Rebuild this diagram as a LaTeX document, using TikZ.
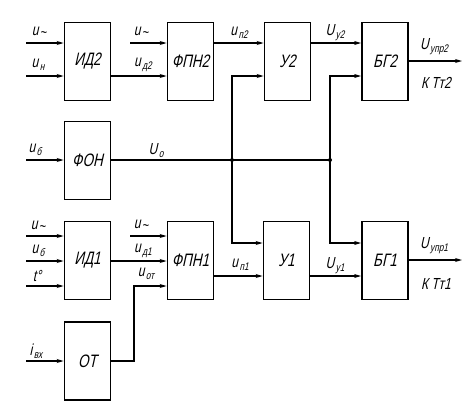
\documentclass[tikz,border=0pt]{standalone}
\usepackage{fontspec}
\setmainfont{Liberation Sans}
\newfontfamily\lblfont[FakeStretch=0.75,FakeSlant=0.22]{Liberation Sans}
\newcommand{\sbx}[1]{\kern1.5pt\raisebox{-0.35ex}{\fontsize{11}{11}\selectfont #1}}
\newcommand{\tldx}{\kern1pt\raisebox{-0.2ex}{\fontsize{15}{15}\selectfont\textasciitilde}}
\usetikzlibrary{arrows.meta}
\tikzset{
  blk/.style={draw, line width=1.8pt, minimum width=46pt, minimum height=78pt, inner sep=0pt, font=\lblfont\fontsize{18}{18}\selectfont},
  wire/.style={line width=1.2pt},
  arr/.style={wire, -{Stealth[length=7pt,width=4pt]}},
  lbl/.style={font=\lblfont\fontsize{16}{16}\selectfont, inner sep=1pt},
  dot/.style={circle, fill, inner sep=0pt, minimum size=4pt}
}
\begin{document}
\begin{tikzpicture}[x=1pt,y=-1pt]
\useasboundingbox (0,0) rectangle (468,416);
% blocks
\node[blk] (id2) at (87.5,61.5) {ИД2};
\node[blk] (fpn2) at (190.5,61.5) {ФПН2};
\node[blk] (fon) at (87.5,160.5) {ФОН};
\node[blk] (u2) at (287.5,61.5) {У2};
\node[blk] (bg2) at (385,61.5) {БГ2};
\node[blk] (id1) at (87.5,260.5) {ИД1};
\node[blk] (fpn1) at (190.5,260.5) {ФПН1};
\node[blk] (ot) at (87.5,361) {ОТ};
\node[blk] (u1) at (286.5,260.5) {У1};
\node[blk] (bg1) at (385,260.5) {БГ1};
% free ends
\coordinate (a1) at (26,43);
\coordinate (a2) at (26,76);
\coordinate (a3) at (130,43);
\coordinate (a4) at (26,160);
\coordinate (b1) at (26,236);
\coordinate (b2) at (26,261);
\coordinate (b3) at (26,286);
\coordinate (b4) at (130,236);
\coordinate (b5) at (26,361);
\coordinate (o2) at (462,61);
\coordinate (o1) at (462,260);
\coordinate (j1) at (232,160);
\coordinate (j2) at (330,160);
% top row
\draw[arr] (a1) -- (a1 -| id2.west);
\draw[arr] (a2) -- (a2 -| id2.west);
\draw[arr] (a3) -- (a3 -| fpn2.west);
\draw[arr] (a2 -| id2.east) -- (a2 -| fpn2.west);
\draw[arr] (a3 -| fpn2.east) -- (a3 -| u2.west);
\draw[arr] (a3 -| u2.east) -- (a3 -| bg2.west);
\draw[arr] (o2 -| bg2.east) -- (o2);
% middle
\draw[arr] (a4) -- (a4 -| fon.west);
\draw[wire] (a4 -| fon.east) -- (j2);
\node[dot] at (j1) {};
\node[dot] at (j2) {};
\draw[arr] (j1) -- (j1 |- a2) -- (a2 -| u2.west);
\draw[arr] (j2) -- (j2 |- a2) -- (a2 -| bg2.west);
\draw[arr] (j1) -- (232,243) -- (u1.west |- 0,243);
\draw[arr] (j2) -- (330,243) -- (bg1.west |- 0,243);
% bottom row
\draw[arr] (b1) -- (b1 -| id1.west);
\draw[arr] (b2) -- (b2 -| id1.west);
\draw[arr] (b3) -- (b3 -| id1.west);
\draw[arr] (b4) -- (b4 -| fpn1.west);
\draw[arr] (b2 -| id1.east) -- (b2 -| fpn1.west);
\draw[arr] (b5) -- (b5 -| ot.west);
\draw[arr] (b5 -| ot.east) -- (134,361) -- (134,286) -- (b3 -| fpn1.west);
\draw[arr] (fpn1.east |- 0,276) -- (u1.west |- 0,276);
\draw[arr] (u1.east |- 0,276) -- (bg1.west |- 0,276);
\draw[arr] (o1 -| bg1.east) -- (o1);
% labels
\node[lbl] at (39,32) {u\tldx};
\node[lbl] at (38,65) {u\sbx{н}};
\node[lbl] at (141,32) {u\tldx};
\node[lbl] at (143,65) {u\sbx{д2}};
\node[lbl] at (35,150) {u\sbx{б}};
\node[lbl] at (156,151) {U\sbx{о}};
\node[lbl] at (239,33) {u\sbx{п2}};
\node[lbl] at (335,33) {U\sbx{у2}};
\node[lbl] at (434,47) {U\sbx{упр2}};
\node[lbl] at (436,83) {К Тт2};
\node[lbl] at (38,226) {u\tldx};
\node[lbl] at (38,251) {u\sbx{б}};
\node[lbl] at (37,276) {t°};
\node[lbl] at (141,225) {u\tldx};
\node[lbl] at (143,251) {u\sbx{д1}};
\node[lbl] at (146,274) {u\sbx{от}};
\node[lbl] at (36,351) {i\sbx{вх}};
\node[lbl] at (240,265) {u\sbx{п1}};
\node[lbl] at (335,266) {U\sbx{у1}};
\node[lbl] at (434,246) {U\sbx{упр1}};
\node[lbl] at (436,284) {К Тт1};
\end{tikzpicture}
\end{document}
